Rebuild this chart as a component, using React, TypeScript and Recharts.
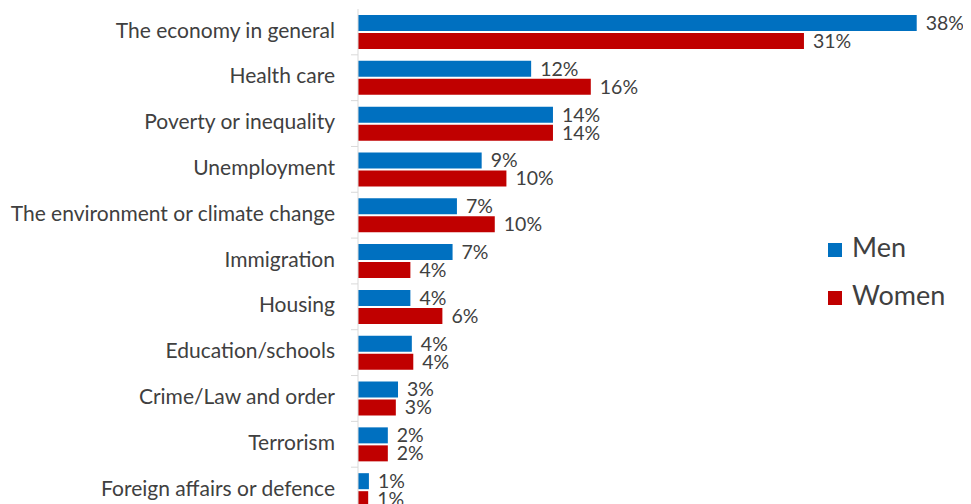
import React from 'react';
import { BarChart, Bar, XAxis, YAxis, LabelList, Legend } from 'recharts';

const categories = [
  'The economy in general',
  'Health care',
  'Poverty or inequality',
  'Unemployment',
  'The environment or climate change',
  'Immigration',
  'Housing',
  'Education/schools',
  'Crime/Law and order',
  'Terrorism',
  'Foreign affairs or defence',
];
// bar lengths (percent)
const men = [38.4, 11.9, 13.4, 8.5, 6.8, 6.5, 3.6, 3.7, 2.75, 2.05, 0.75];
const women = [30.65, 16.0, 13.4, 10.2, 9.4, 3.6, 5.8, 3.8, 2.6, 2.05, 0.7];
// printed data labels
const menLabels = ['38%', '12%', '14%', '9%', '7%', '7%', '4%', '4%', '3%', '2%', '1%'];
const womenLabels = ['31%', '16%', '14%', '10%', '10%', '4%', '6%', '4%', '3%', '2%', '1%'];

const seriesNames = ['Men', 'Women'];
const colors = ['#0070C0', '#C00000'];

const data = categories.map((name, i) => ({
  name,
  men: men[i],
  women: women[i],
  menLabel: menLabels[i],
  womenLabel: womenLabels[i],
}));

const FONT = 'Lato, "Open Sans", sans-serif';
const TEXT = '#404040';
const AXIS = '#D9D9D9';

const W = 963;
const H = 520;
const MARGIN = { top: 1, right: 31, bottom: 15, left: 0 };
const bandFallback = (H - MARGIN.top - MARGIN.bottom) / categories.length;

const CategoryTick = (props: any) => {
  const { x, y, payload } = props;
  const half = payload && typeof payload.offset === 'number' && payload.offset > 0 ? payload.offset : bandFallback / 2;
  return (
    <g>
      <line x1={x - 7} x2={x} y1={y + half} y2={y + half} stroke={AXIS} strokeWidth={1} />
      <text
        x={x - 23}
        y={y}
        dy="0.27em"
        textAnchor="end"
        fill={TEXT}
        style={{ fontFamily: FONT, fontSize: 21 }}
      >
        {payload.value}
      </text>
    </g>
  );
};

const LegendContent = () => (
  <div style={{ fontFamily: FONT, color: TEXT }}>
    {seriesNames.map((n, i) => (
      <div key={n} style={{ display: 'flex', alignItems: 'center', height: 48 }}>
        <span
          style={{
            display: 'inline-block',
            width: 14,
            height: 14,
            background: colors[i],
            marginRight: 10,
            position: 'relative',
            top: 3,
          }}
        />
        <span style={{ fontSize: 27, lineHeight: '48px' }}>{n}</span>
      </div>
    ))}
  </div>
);

export default function App() {
  return (
    <div>
      <style>{'html,body{overflow:hidden}'}</style>
      <BarChart
        width={W}
        height={H}
        data={data}
        layout="vertical"
        margin={MARGIN}
        barSize={16}
        barGap={2}
      >
        <XAxis type="number" domain={[0, 40]} hide />
        <YAxis
          type="category"
          dataKey="name"
          width={350}
          axisLine={{ stroke: AXIS }}
          tickLine={false}
          tickSize={0}
          tickMargin={0}
          interval={0}
          tick={<CategoryTick />}
        />
        <Legend
          layout="vertical"
          align="center"
          verticalAlign="middle"
          content={<LegendContent />}
          wrapperStyle={{ position: 'absolute', left: 820, top: 215, width: 'auto' }}
        />
        <Bar dataKey="men" name={seriesNames[0]} fill={colors[0]} isAnimationActive={false}>
          <LabelList
            dataKey="menLabel"
            position="right"
            offset={9}
            fill={TEXT}
            style={{ fontFamily: FONT, fontSize: 19.5 }}
          />
        </Bar>
        <Bar dataKey="women" name={seriesNames[1]} fill={colors[1]} isAnimationActive={false}>
          <LabelList
            dataKey="womenLabel"
            position="right"
            offset={9}
            fill={TEXT}
            style={{ fontFamily: FONT, fontSize: 19.5 }}
          />
        </Bar>
      </BarChart>
    </div>
  );
}
